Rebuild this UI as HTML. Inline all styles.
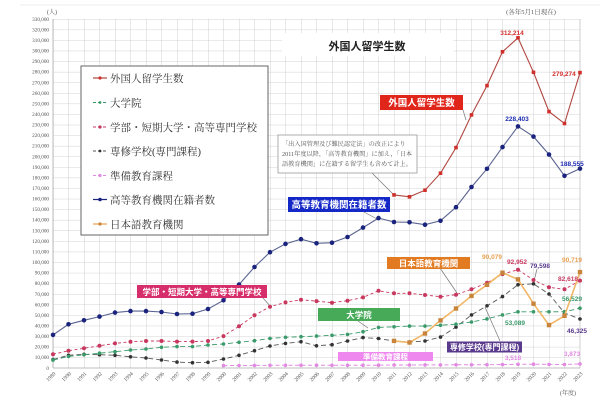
<!DOCTYPE html>
<html><head><meta charset="utf-8"><style>
html,body{margin:0;padding:0;background:#fff;}
svg{display:block;}
.yl{font-family:"Liberation Serif",serif;font-size:5.2px;fill:#555;text-anchor:end;}
.xl{font-family:"Liberation Serif",serif;font-size:5.5px;fill:#555;text-anchor:end;}
.jp{font-family:"Liberation Serif","Noto Serif CJK SC","Noto Serif CJK JP",serif;}
.js{font-family:"Liberation Sans","Noto Sans CJK JP",sans-serif;}
.vl{font-family:"Liberation Sans",sans-serif;font-size:6.5px;text-anchor:middle;font-weight:bold;}
</style></head><body>
<svg width="600" height="400" viewBox="0 0 600 400" xmlns="http://www.w3.org/2000/svg">
<defs>
<pattern id="grid" x="53" y="19" width="15.5" height="10.5758" patternUnits="userSpaceOnUse">
<path d="M0 0H15.5M0 0V10.5758" stroke="#c4c4c4" stroke-width="0.8" fill="none"/>
</pattern>
<marker id="mR" markerUnits="userSpaceOnUse" markerWidth="6" markerHeight="6" refX="3" refY="3"><rect x="1.2" y="1.2" width="3.6" height="3.6" fill="#d0302c"/></marker>
<marker id="mB" markerUnits="userSpaceOnUse" markerWidth="6" markerHeight="6" refX="3" refY="3"><circle cx="3" cy="3" r="2.3" fill="#1a237e"/></marker>
<marker id="mC" markerUnits="userSpaceOnUse" markerWidth="6" markerHeight="6" refX="3" refY="3"><circle cx="3" cy="3" r="2" fill="#c8385e"/></marker>
<marker id="mG" markerUnits="userSpaceOnUse" markerWidth="6" markerHeight="6" refX="3" refY="3"><circle cx="3" cy="3" r="1.8" fill="#3a9a6a"/></marker>
<marker id="mK" markerUnits="userSpaceOnUse" markerWidth="6" markerHeight="6" refX="3" refY="3"><circle cx="3" cy="3" r="1.8" fill="#333"/></marker>
<marker id="mP" markerUnits="userSpaceOnUse" markerWidth="6" markerHeight="6" refX="3" refY="3"><circle cx="3" cy="3" r="1.8" fill="#e28ae2"/></marker>
<marker id="mO" markerUnits="userSpaceOnUse" markerWidth="7" markerHeight="7" refX="3.5" refY="3.5"><rect x="1.3" y="1.3" width="4.4" height="4.4" fill="#c8843a"/></marker>
</defs>
<rect x="0" y="0" width="600" height="400" fill="#fff"/>
<line x1="20" y1="5" x2="600" y2="5" stroke="#eee" stroke-width="1"/>
<!-- grid -->
<rect x="53" y="19" width="527" height="349" fill="url(#grid)"/>
<line x1="580" y1="19" x2="580" y2="368" stroke="#c4c4c4" stroke-width="0.8"/>
<line x1="53" y1="368" x2="580" y2="368" stroke="#aaa" stroke-width="0.8"/>
<line x1="53" y1="19" x2="53" y2="368" stroke="#aaa" stroke-width="0.8"/>
<!-- y labels -->
<g class="yl">
<text x="49" y="369.8">0</text>
<text x="49" y="359.2">10,000</text>
<text x="49" y="348.6">20,000</text>
<text x="49" y="338.1">30,000</text>
<text x="49" y="327.5">40,000</text>
<text x="49" y="316.9">50,000</text>
<text x="49" y="306.3">60,000</text>
<text x="49" y="295.8">70,000</text>
<text x="49" y="285.2">80,000</text>
<text x="49" y="274.6">90,000</text>
<text x="49" y="264.0">100,000</text>
<text x="49" y="253.5">110,000</text>
<text x="49" y="242.9">120,000</text>
<text x="49" y="232.3">130,000</text>
<text x="49" y="221.7">140,000</text>
<text x="49" y="211.2">150,000</text>
<text x="49" y="200.6">160,000</text>
<text x="49" y="190.0">170,000</text>
<text x="49" y="179.4">180,000</text>
<text x="49" y="168.9">190,000</text>
<text x="49" y="158.3">200,000</text>
<text x="49" y="147.7">210,000</text>
<text x="49" y="137.1">220,000</text>
<text x="49" y="126.6">230,000</text>
<text x="49" y="116.0">240,000</text>
<text x="49" y="105.4">250,000</text>
<text x="49" y="94.8">260,000</text>
<text x="49" y="84.3">270,000</text>
<text x="49" y="73.7">280,000</text>
<text x="49" y="63.1">290,000</text>
<text x="49" y="52.5">300,000</text>
<text x="49" y="41.9">310,000</text>
<text x="49" y="31.4">320,000</text>
<text x="49" y="20.8">330,000</text>
</g>
<text x="47" y="14" class="jp" font-size="6" fill="#555">(人)</text>
<text x="531" y="14" class="jp" font-size="6.5" fill="#555" text-anchor="middle">(各年5月1日現在)</text>
<!-- x labels -->
<g class="xl">
<text transform="translate(56,374) rotate(-45)">1989</text>
<text transform="translate(71.5,374) rotate(-45)">1990</text>
<text transform="translate(87,374) rotate(-45)">1991</text>
<text transform="translate(102.5,374) rotate(-45)">1992</text>
<text transform="translate(118,374) rotate(-45)">1993</text>
<text transform="translate(133.5,374) rotate(-45)">1994</text>
<text transform="translate(149,374) rotate(-45)">1995</text>
<text transform="translate(164.5,374) rotate(-45)">1996</text>
<text transform="translate(180,374) rotate(-45)">1997</text>
<text transform="translate(195.5,374) rotate(-45)">1998</text>
<text transform="translate(211,374) rotate(-45)">1999</text>
<text transform="translate(226.5,374) rotate(-45)">2000</text>
<text transform="translate(242,374) rotate(-45)">2001</text>
<text transform="translate(257.5,374) rotate(-45)">2002</text>
<text transform="translate(273,374) rotate(-45)">2003</text>
<text transform="translate(288.5,374) rotate(-45)">2004</text>
<text transform="translate(304,374) rotate(-45)">2005</text>
<text transform="translate(319.5,374) rotate(-45)">2006</text>
<text transform="translate(335,374) rotate(-45)">2007</text>
<text transform="translate(350.5,374) rotate(-45)">2008</text>
<text transform="translate(366,374) rotate(-45)">2009</text>
<text transform="translate(381.5,374) rotate(-45)">2010</text>
<text transform="translate(397,374) rotate(-45)">2011</text>
<text transform="translate(412.5,374) rotate(-45)">2012</text>
<text transform="translate(428,374) rotate(-45)">2013</text>
<text transform="translate(443.5,374) rotate(-45)">2014</text>
<text transform="translate(459,374) rotate(-45)">2015</text>
<text transform="translate(474.5,374) rotate(-45)">2016</text>
<text transform="translate(490,374) rotate(-45)">2017</text>
<text transform="translate(505.5,374) rotate(-45)">2018</text>
<text transform="translate(521,374) rotate(-45)">2019</text>
<text transform="translate(536.5,374) rotate(-45)">2020</text>
<text transform="translate(552,374) rotate(-45)">2021</text>
<text transform="translate(567.5,374) rotate(-45)">2022</text>
<text transform="translate(583,374) rotate(-45)">2023</text>
</g>
<text x="568" y="395" class="jp" font-size="6" fill="#555" text-anchor="middle">(年度)</text>

<!-- title -->
<rect x="282" y="33" width="171" height="23" fill="#fff"/>
<text x="367" y="50" class="js" font-size="11" font-weight="bold" fill="#222" text-anchor="middle">外国人留学生数</text>

<!-- leader lines -->
<g stroke="#777" stroke-width="0.7" fill="none">
<line x1="372" y1="173" x2="393" y2="194"/>
<line x1="463" y1="110" x2="466" y2="120"/>
<line x1="364" y1="212" x2="377" y2="219"/>
<line x1="263" y1="298" x2="271" y2="307"/>
<line x1="358" y1="321" x2="368" y2="328"/>
<line x1="440" y1="268" x2="457" y2="293"/>
<line x1="500" y1="341" x2="485" y2="307"/>
<line x1="537" y1="269" x2="534" y2="281"/>
</g>

<!-- series -->
<polyline fill="none" stroke="#e28ae2" stroke-width="1" stroke-dasharray="4,2.5" marker-start="url(#mP)" marker-mid="url(#mP)" marker-end="url(#mP)" points="223.5,365.6 239,365.5 254.5,365.4 270,365.3 285.5,365.3 301,365.2 316.5,365.2 332,365.3 347.5,365.3 363,365.2 378.5,365.2 394,365.0 409.5,365.0 425,364.9 440.5,364.9 456,364.8 471.5,364.8 487,364.7 502.5,364.6 518,364.3 533.5,364.2 549,364.4 564.5,364.5 580,363.9"/>
<polyline fill="none" stroke="#555" stroke-width="0.9" stroke-dasharray="5,3" marker-start="url(#mK)" marker-mid="url(#mK)" marker-end="url(#mK)" points="53,359.5 68.5,355.3 84,354.3 99.5,354.7 115,355.3 130.5,356.8 146,358.0 161.5,360.0 177,362.1 192.5,362.7 208,362.3 223.5,359.0 239,355.3 254.5,350.7 270,346.0 285.5,343.4 301,341.7 316.5,345.8 332,344.7 347.5,341.0 363,337.6 378.5,338.5 394,341.0 409.5,342.0 425,341.0 440.5,337.1 456,327.1 471.5,314.9 487,305.8 502.5,296.6 518,284.7 533.5,283.8 549,294.0 564.5,313.0 580,319.0"/>
<polyline fill="none" stroke="#3a9a6a" stroke-width="0.9" stroke-dasharray="5,3" marker-start="url(#mG)" marker-mid="url(#mG)" marker-end="url(#mG)" points="53,360.1 68.5,356.4 84,354.8 99.5,353.2 115,351.7 130.5,350.0 146,349.0 161.5,347.3 177,346.6 192.5,346.6 208,345.0 223.5,344.0 239,342.3 254.5,340.7 270,338.4 285.5,337.3 301,336.7 316.5,336.1 332,335.3 347.5,334.4 363,331.7 378.5,327.4 394,326.8 409.5,326.1 425,326.1 440.5,325.2 456,324.2 471.5,322.0 487,318.9 502.5,314.9 518,311.8 533.5,311.8 549,311.8 564.5,311.7 580,308.2"/>
<polyline fill="none" stroke="#c8385e" stroke-width="0.9" stroke-dasharray="3,2.5" marker-start="url(#mC)" marker-mid="url(#mC)" marker-end="url(#mC)" points="53,354.3 68.5,350.7 84,348.3 99.5,345.8 115,343.4 130.5,341.7 146,341.0 161.5,341.0 177,341.6 192.5,341.6 208,341.0 223.5,336.1 239,326.3 254.5,315.3 270,306.7 285.5,302.4 301,299.7 316.5,301.1 332,302.7 347.5,300.7 363,297.4 378.5,290.8 394,293.3 409.5,293.3 425,295.0 440.5,296.7 456,294.7 471.5,289.3 487,282.8 502.5,274.1 518,269.7 533.5,280.0 549,287.3 564.5,289.3 580,280.6"/>
<polyline fill="none" stroke="#f2b868" stroke-width="1.6" marker-start="url(#mO)" marker-mid="url(#mO)" marker-end="url(#mO)" points="394,340.9 409.5,342.5 425,333.5 440.5,320.4 456,308.5 471.5,295.9 487,284.8 502.5,272.7 518,279.4 533.5,303.7 549,325.1 564.5,315.8 580,272.1"/>
<polyline fill="none" stroke="#5a6490" stroke-width="1.1" marker-start="url(#mB)" marker-mid="url(#mB)" marker-end="url(#mB)" points="53,334.9 68.5,324.3 84,320.3 99.5,316.6 115,312.6 130.5,311.1 146,311.1 161.5,312.0 177,314.0 192.5,313.7 208,309.0 223.5,300.3 239,284.6 254.5,267.0 270,252.2 285.5,243.9 301,239.2 316.5,243.3 332,242.7 347.5,237.0 363,227.6 378.5,218.1 394,222.0 409.5,222.3 425,224.7 440.5,220.8 456,207.2 471.5,187.0 487,168.8 502.5,147.1 518,126.4 533.5,136.6 549,154.5 564.5,175.8 580,168.6"/>
<polyline fill="none" stroke="#b0463f" stroke-width="1.1" marker-start="url(#mR)" marker-mid="url(#mR)" marker-end="url(#mR)" points="394,194.9 409.5,196.8 425,190.2 440.5,173.2 456,147.6 471.5,114.9 487,85.6 502.5,51.8 518,37.8 533.5,72.3 549,111.6 564.5,123.5 580,72.6"/>

<!-- legend -->
<rect x="81" y="66" width="187" height="169" fill="#fff" stroke="#666" stroke-width="1"/>
<g class="jp" font-size="10.5" fill="#333">
<line x1="93" y1="78" x2="107" y2="78" stroke="#b0463f" stroke-width="1.2"/><circle cx="100" cy="78" r="1.6" fill="#d0302c"/>
<text x="110" y="82">外国人留学生数</text>
<line x1="93" y1="102.5" x2="107" y2="102.5" stroke="#3a9a6a" stroke-width="0.9" stroke-dasharray="3,2"/><circle cx="100" cy="102.5" r="1.4" fill="#3a9a6a"/>
<text x="110" y="106.5">大学院</text>
<line x1="93" y1="127" x2="107" y2="127" stroke="#c8385e" stroke-width="0.9" stroke-dasharray="3,2"/><circle cx="100" cy="127" r="1.6" fill="#c8385e"/>
<text x="110" y="131">学部・短期大学・高等専門学校</text>
<line x1="93" y1="151" x2="107" y2="151" stroke="#555" stroke-width="0.9" stroke-dasharray="3,2"/><circle cx="100" cy="151" r="1.4" fill="#333"/>
<text x="110" y="155">専修学校(専門課程)</text>
<line x1="93" y1="175.5" x2="107" y2="175.5" stroke="#e28ae2" stroke-width="0.9" stroke-dasharray="3,2"/><circle cx="100" cy="175.5" r="1.6" fill="#e28ae2"/>
<text x="110" y="179.5">準備教育課程</text>
<line x1="93" y1="199.5" x2="107" y2="199.5" stroke="#1a237e" stroke-width="1.2"/><circle cx="100" cy="199.5" r="1.8" fill="#1a237e"/>
<text x="110" y="203.5">高等教育機関在籍者数</text>
<line x1="93" y1="224" x2="107" y2="224" stroke="#e8a050" stroke-width="1.2"/><circle cx="100" cy="224" r="1.6" fill="#c8843a"/>
<text x="110" y="228">日本語教育機関</text>
</g>

<!-- annotation -->
<rect x="278" y="135" width="139" height="38" fill="#fff" stroke="#999" stroke-width="0.8"/>
<g class="jp" font-size="6.2" fill="#555">
<text x="282" y="146">「出入国管理及び難民認定法」の改正により</text>
<text x="282" y="156">2011年度以降，「高等教育機関」に加え，「日本</text>
<text x="282" y="166">語教育機関」に在籍する留学生も含めて計上。</text>
</g>

<!-- series label boxes -->
<rect x="380" y="95" width="83" height="15" fill="#e0251b"/>
<text x="421.5" y="106" class="js" font-size="9.5" font-weight="bold" fill="#fff" text-anchor="middle">外国人留学生数</text>
<rect x="288" y="197" width="102" height="15" fill="#1428c8"/>
<text x="339" y="208" class="js" font-size="9.5" font-weight="bold" fill="#fff" text-anchor="middle">高等教育機関在籍者数</text>
<rect x="137" y="285" width="130" height="13" fill="#d62e6a"/>
<text x="202" y="295" class="js" font-size="8.5" font-weight="bold" fill="#fff" text-anchor="middle">学部・短期大学・高等専門学校</text>
<rect x="318" y="308" width="82" height="13" fill="#46aa58"/>
<text x="359" y="318" class="js" font-size="8.5" font-weight="bold" fill="#fff" text-anchor="middle">大学院</text>
<rect x="387" y="257" width="83" height="12" fill="#e27a22"/>
<text x="428.5" y="266.3" class="js" font-size="8.5" font-weight="bold" fill="#fff" text-anchor="middle">日本語教育機関</text>
<rect x="447" y="341.5" width="75" height="11" fill="#5a3a8c"/>
<text x="484.5" y="350" class="js" font-size="8" font-weight="bold" fill="#fff" text-anchor="middle">専修学校(専門課程)</text>
<rect x="338" y="352" width="95" height="9" fill="#ee88ee"/>
<text x="385.5" y="359.5" class="js" font-size="7.5" font-weight="bold" fill="#fff" text-anchor="middle">準備教育課程</text>

<!-- value labels -->
<text x="512" y="35" class="vl" fill="#d0302c">312,214</text>
<text x="564" y="76" class="vl" fill="#d0302c">279,274</text>
<text x="517" y="121" class="vl" fill="#1a2ab0">228,403</text>
<text x="572" y="166" class="vl" fill="#1a2ab0">188,555</text>
<text x="492" y="259" class="vl" fill="#e8a050">90,079</text>
<text x="517" y="264" class="vl" fill="#c8385e">92,952</text>
<text x="540" y="268" class="vl" fill="#5a3a8c">79,598</text>
<text x="572" y="262" class="vl" fill="#e8a050">90,719</text>
<text x="568" y="281" class="vl" fill="#c8385e">82,618</text>
<text x="572" y="301" class="vl" fill="#3a9a6a">56,529</text>
<text x="515" y="325" class="vl" fill="#3a9a6a">53,089</text>
<text x="577" y="333" class="vl" fill="#5a3a8c">46,325</text>
<text x="513" y="360" class="vl" fill="#e28ae2">3,518</text>
<text x="572" y="356" class="vl" fill="#e28ae2">3,873</text>
</svg>
</body></html>
